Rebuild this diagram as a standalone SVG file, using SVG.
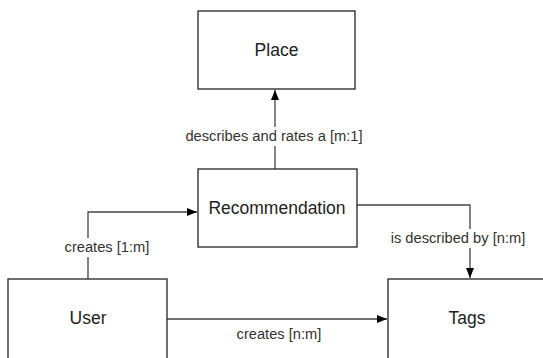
<svg xmlns="http://www.w3.org/2000/svg" width="543" height="358" viewBox="0 0 543 358">
<defs>
<style>
.box{fill:#fff;stroke:#222;stroke-width:1.3}
.t{font-family:"Liberation Sans",Arial,sans-serif;font-size:17.5px;fill:#222;text-anchor:middle}
.l{font-family:"Liberation Sans",Arial,sans-serif;font-size:14.7px;fill:#333;text-anchor:middle}
.c{fill:none;stroke:#444;stroke-width:1.3}
.bg{fill:#fff}
</style>
<marker id="arr" viewBox="0 0 10 10" refX="10" refY="5" markerWidth="10" markerHeight="10" markerUnits="userSpaceOnUse" orient="auto">
<path d="M0,1 L10,5 L0,9 z" fill="#000"/>
</marker>
</defs>
<rect width="543" height="358" fill="#fff"/>
<g id="connectors">
<path class="c" d="M275,169 V90" marker-end="url(#arr)"/>
<path class="c" d="M88,279 V212 H197" marker-end="url(#arr)"/>
<path class="c" d="M357,205 H470 V278" marker-end="url(#arr)"/>
<path class="c" d="M167,319 H387" marker-end="url(#arr)"/>
<rect class="bg" x="183" y="127" width="184" height="19"/>
<text class="l" x="274" y="141">describes and rates a [m:1]</text>
<rect class="bg" x="63" y="238" width="89" height="19"/>
<text class="l" x="107" y="252">creates [1:m]</text>
<rect class="bg" x="387" y="229" width="143" height="19"/>
<text class="l" x="458" y="243">is described by [n:m]</text>
<text class="l" x="279" y="339">creates [n:m]</text>
</g>
<g id="place">
<rect class="box" x="198" y="11" width="157" height="78"/>
<text class="t" x="276.5" y="56">Place</text>
</g>
<g id="recommendation">
<rect class="box" x="198" y="169" width="159" height="78"/>
<text class="t" x="277" y="214">Recommendation</text>
</g>
<g id="user">
<rect class="box" x="8" y="279" width="159" height="81"/>
<text class="t" x="88" y="324">User</text>
</g>
<g id="tags">
<rect class="box" x="388" y="279" width="159" height="81"/>
<text class="t" x="467" y="324">Tags</text>
</g>
</svg>
